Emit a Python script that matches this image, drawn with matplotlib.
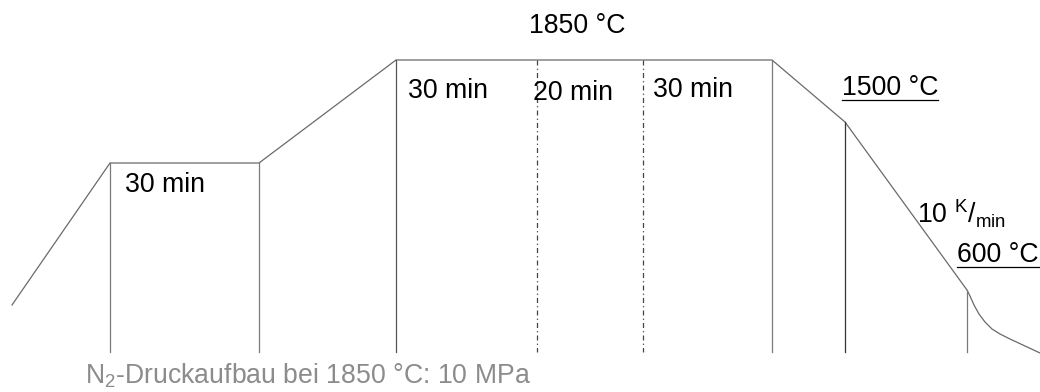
import matplotlib
matplotlib.use("Agg")
import matplotlib.pyplot as plt

plt.rcParams['font.family'] = ['Liberation Sans', 'DejaVu Sans']
plt.rcParams['mathtext.fontset'] = 'custom'
plt.rcParams['mathtext.rm'] = 'Liberation Sans'
plt.rcParams['mathtext.it'] = 'Liberation Sans'

# Schematic temperature-time profile (schematic units, y grows downward)
profile_t = [12, 110, 259, 396, 772, 845, 967, 970, 974, 979, 985, 992, 1000, 1010, 1025, 1040]
profile_T = [305, 163, 163, 60, 60, 122, 290, 296, 305, 314, 322, 329, 334, 339, 346, 353]

# Segment boundaries: (time, top level, style)
bound_t = [110, 259, 396, 537, 643, 772, 845, 967]
bound_top = [163, 163, 60, 60, 60, 60, 122, 290]
bound_dash = [False, False, False, True, True, False, False, False]
bound_color = ['#7a7a7a', '#7a7a7a', '#555555', '#555555', '#555555', '#7a7a7a', '#333333', '#7a7a7a']
base_level = 352

hold_labels = ["30 min", "30 min", "20 min", "30 min"]
hold_t = [125, 408, 533, 653]
hold_y = [192, 98, 100, 97]

fig = plt.figure(figsize=(10.4, 3.92), dpi=100)
ax = fig.add_axes([0, 0, 1, 1])
ax.set_xlim(0, 1040)
ax.set_ylim(392, 0)
ax.axis('off')

ax.plot(profile_t, profile_T, color='#6a6a6a', lw=0.9, solid_joinstyle='miter')
for t, top, d, c in zip(bound_t, bound_top, bound_dash, bound_color):
    ax.plot([t, t], [top, base_level], color='#444444' if d else c, lw=0.9,
            linestyle=(0, (4, 2.5, 1, 2.5)) if d else '-')

fs = 19.2
for lab, t, y in zip(hold_labels, hold_t, hold_y):
    ax.text(t, y, lab, fontsize=fs, ha='left', va='baseline', color='black')

ax.text(577, 33, "1850 °C", fontsize=fs, ha='center', va='baseline', color='black')

fig.canvas.draw()
renderer = fig.canvas.get_renderer()
inv = ax.transData.inverted()

def underlined(x, y, s, uy):
    t = ax.text(x, y, s, fontsize=fs, ha='left', va='baseline', color='black')
    bb = t.get_window_extent(renderer)
    x0 = inv.transform((bb.x0, 0))[0]
    x1 = inv.transform((bb.x1, 0))[0]
    ax.plot([x0, x1], [uy, uy], color='black', lw=0.9)

underlined(842, 95, "1500 °C", 99.5)
underlined(957, 262, "600 °C", 267)

ax.text(917, 223, r"10 $^{\mathrm{K}}/_{\mathrm{min}}$", fontsize=fs, ha='left', va='baseline', color='black')

ax.text(85, 383, r"N$_{\mathrm{2}}$-Druckaufbau bei 1850 °C: 10 MPa", fontsize=fs,
        ha='left', va='baseline', color='#8c8c8c')

fig.savefig("out.png", dpi=100, facecolor='white')
